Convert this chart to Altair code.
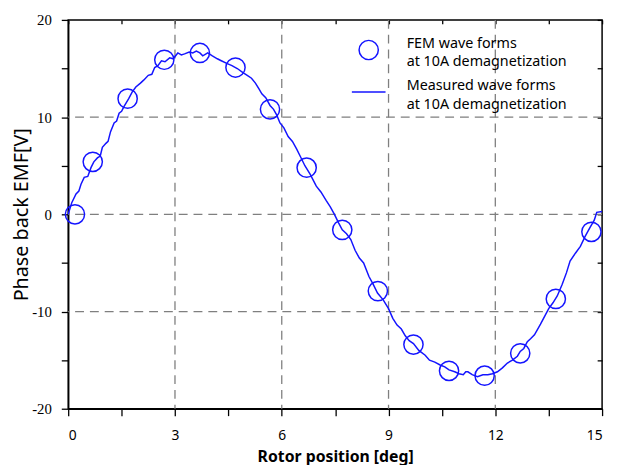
import altair as alt
import pandas as pd

# FEM wave forms (circles)
fem_x = [0.19, 0.69, 1.67, 2.7, 3.7, 4.7, 5.67, 6.7, 7.7, 8.7, 9.7, 10.7, 11.7, 12.7, 13.7, 14.7]
fem_y = [0.0, 5.4, 11.9, 15.9, 16.6, 15.1, 10.8, 4.8, -1.6, -7.9, -13.4, -16.1, -16.6, -14.3, -8.7, -1.8]

# Measured wave forms (line)
meas_x = [0.0, 0.1, 0.22, 0.3, 0.36, 0.45, 0.55, 0.64, 0.72, 0.82, 0.9, 0.96, 1.06, 1.12, 1.19,
          1.29, 1.36, 1.43, 1.5, 1.57, 1.7, 1.8, 1.9, 2.03, 2.12, 2.25, 2.35, 2.43, 2.52, 2.62,
          2.72, 2.85, 2.95, 3.08, 3.18, 3.27, 3.4, 3.5, 3.6, 3.7, 3.78, 3.92, 4.05, 4.19, 4.3,
          4.47, 4.6, 4.75, 4.9, 5.03, 5.15, 5.26, 5.36, 5.44, 5.55, 5.67, 5.77, 5.86, 5.95, 6.06,
          6.18, 6.3, 6.42, 6.53, 6.65, 6.8, 6.97, 7.1, 7.25, 7.36, 7.48, 7.6, 7.7, 7.82, 7.94,
          8.06, 8.18, 8.3, 8.45, 8.57, 8.69, 8.85, 9.0, 9.12, 9.24, 9.36, 9.47, 9.58, 9.7, 9.85,
          10.03, 10.15, 10.3, 10.45, 10.58, 10.7, 10.86, 10.98, 11.1, 11.17, 11.23, 11.35, 11.5,
          11.65, 11.79, 11.92, 12.06, 12.2, 12.34, 12.48, 12.62, 12.7, 12.8, 12.9, 12.99, 13.1,
          13.27, 13.4, 13.5, 13.62, 13.74, 13.88, 14.0, 14.1, 14.25, 14.39, 14.52, 14.67, 14.78,
          14.85, 15.0]
meas_y = [0.0, 1.2, 2.1, 2.4, 3.1, 3.8, 3.9, 4.8, 5.4, 5.8, 6.0, 6.9, 7.3, 7.5, 8.5,
          9.4, 9.6, 10.4, 10.6, 11.1, 11.9, 12.6, 13.1, 13.5, 13.8, 14.3, 14.4, 15.1, 15.3, 15.8,
          15.7, 16.1, 16.0, 16.6, 16.4, 16.5, 16.7, 16.6, 16.8, 16.6, 16.3, 16.6, 16.3, 16.0, 15.8,
          15.5, 15.3, 15.0, 14.6, 14.3, 14.0, 13.5, 12.9, 12.4, 12.0, 11.2, 10.8, 10.2, 9.4, 8.9,
          8.0, 7.5, 6.7, 5.9, 5.0, 4.1, 2.9, 2.3, 1.4, 0.8, 0.0, -0.9, -1.6, -2.0, -2.6,
          -3.7, -4.5, -5.0, -6.4, -7.2, -8.1, -8.8, -9.7, -10.7, -11.4, -11.8, -12.5, -13.0, -13.3, -14.0,
          -14.5, -15.0, -15.2, -15.5, -15.7, -16.0, -16.2, -16.4, -16.5, -16.2, -16.2, -16.5, -16.7,
          -16.5, -16.5, -16.4, -16.2, -15.8, -15.3, -15.0, -14.6, -14.1, -13.8, -13.1, -12.8, -12.4,
          -11.3, -10.4, -9.7, -9.1, -8.4, -7.2, -6.0, -4.8, -4.0, -3.3, -2.3, -1.3, -0.6,
          0.2, 0.3]

series_names = ["FEM wave forms\nat 10A demagnetization",
                "Measured wave forms\nat 10A demagnetization"]

x_ticks = [0, 1.5, 3, 4.5, 6, 7.5, 9, 10.5, 12, 13.5, 15]
y_ticks = [-20, -15, -10, -5, 0, 5, 10, 15, 20]
grid_x = [3, 6, 9, 12]
grid_y = [-10, 0, 10]

BLUE = "#1414ff"
GRID = "#7f7f7f"

fem_df = pd.DataFrame({"x": fem_x, "y": fem_y, "series": series_names[0]})
meas_df = pd.DataFrame({"x": meas_x, "y": meas_y})
gx_df = pd.DataFrame({"x": grid_x})
gy_df = pd.DataFrame({"y": grid_y})

xscale = alt.Scale(domain=[0, 15], nice=False, zero=False)
yscale = alt.Scale(domain=[-20, 20], nice=False, zero=False)

grid_v = alt.Chart(gx_df).mark_rule(color=GRID, strokeDash=[9, 6], strokeWidth=1.3).encode(
    x=alt.X("x:Q", scale=xscale, axis=None)
)
grid_h = alt.Chart(gy_df).mark_rule(color=GRID, strokeDash=[9, 6], strokeWidth=1.3).encode(
    y=alt.Y("y:Q", scale=yscale, axis=None)
)

line = alt.Chart(meas_df).mark_line(color=BLUE, strokeWidth=1.5).encode(
    x=alt.X("x:Q", scale=xscale,
            axis=alt.Axis(values=x_ticks, grid=False, tickSize=7, tickColor="black",
                          tickWidth=1.3, domainColor="black", domainWidth=1.5,
                          labelExpr="datum.value % 3 == 0 ? datum.label : ''",
                          labelFont="Noto Sans", labelFontSize=14, labelColor="black",
                          labelPadding=13, labelOverlap=False,
                          title="Rotor position [deg]", titleFont="Noto Sans",
                          titleFontSize=16, titleFontWeight="bold", titleColor="black",
                          titlePadding=6)),
    y=alt.Y("y:Q", scale=yscale,
            axis=alt.Axis(values=y_ticks, grid=False, tickSize=7, tickColor="black",
                          tickWidth=1.3, domainColor="black", domainWidth=1.5,
                          labelExpr="datum.value % 10 == 0 ? toString(datum.value) : ''",
                          labelFont="Liberation Serif", labelFontSize=15, labelColor="black",
                          labelPadding=10, labelOverlap=False,
                          title="Phase back EMF[V]", titleFont="Noto Sans",
                          titleFontSize=20, titleFontWeight="normal", titleColor="black",
                          titlePadding=0)),
)

# legend symbols (native legend, labels drawn separately for a taller line height)
points = alt.Chart(fem_df).mark_point(filled=False, color=BLUE, size=380, strokeWidth=1.5, opacity=1).encode(
    x=alt.X("x:Q", scale=xscale, axis=None),
    y=alt.Y("y:Q", scale=yscale, axis=None),
    shape=alt.Shape("series:N",
                    scale=alt.Scale(domain=series_names, range=["circle", "M-1.75,0H1.75"]),
                    legend=alt.Legend(title=None, orient="none", legendX=294, legendY=20,
                                      padding=0, symbolSize=380, symbolStrokeWidth=1.5,
                                      symbolStrokeColor=BLUE, symbolFillColor="rgba(0,0,0,0)",
                                      labelExpr="''", labelOffset=0,
                                      rowPadding=18.5)),
)

legend_df = pd.DataFrame({"label": series_names, "row": [0, 1]})
legend_text = alt.Chart(legend_df).transform_calculate(
    lines="split(datum.label, '\\n')",
    ty="datum.row == 0 ? 17 : 60",
).mark_text(align="left", baseline="top", font="Noto Sans", fontSize=14.5,
            lineHeight=19, color="black").encode(
    text="lines:N",
    x=alt.value(343),
    y=alt.Y("ty:Q", scale=None, axis=None),
)

frame = alt.Chart(fem_df).mark_point(opacity=0).encode(
    x=alt.X("x:Q", scale=xscale,
            axis=alt.Axis(orient="top", values=x_ticks, grid=False, labels=False, domain=False,
                          tickSize=4, offset=-4, tickColor="black", tickWidth=1.3, title=None)),
    y=alt.Y("y:Q", scale=yscale,
            axis=alt.Axis(orient="right", values=y_ticks, grid=False, labels=False, domain=False,
                          tickSize=5, offset=-5, tickColor="black", tickWidth=1.3, title=None)),
)

chart = alt.layer(grid_v, grid_h, line, points, legend_text, frame).resolve_axis(
    x="independent", y="independent"
).properties(
    width=541, height=394,
    autosize=alt.AutoSizeParams(type="none"),
    padding={"left": 61, "top": 9, "right": 7, "bottom": 57},
    background="white",
).configure_view(stroke="black", strokeWidth=1.5)

chart.save("out.html", embed_options={"renderer": "svg", "actions": False})
